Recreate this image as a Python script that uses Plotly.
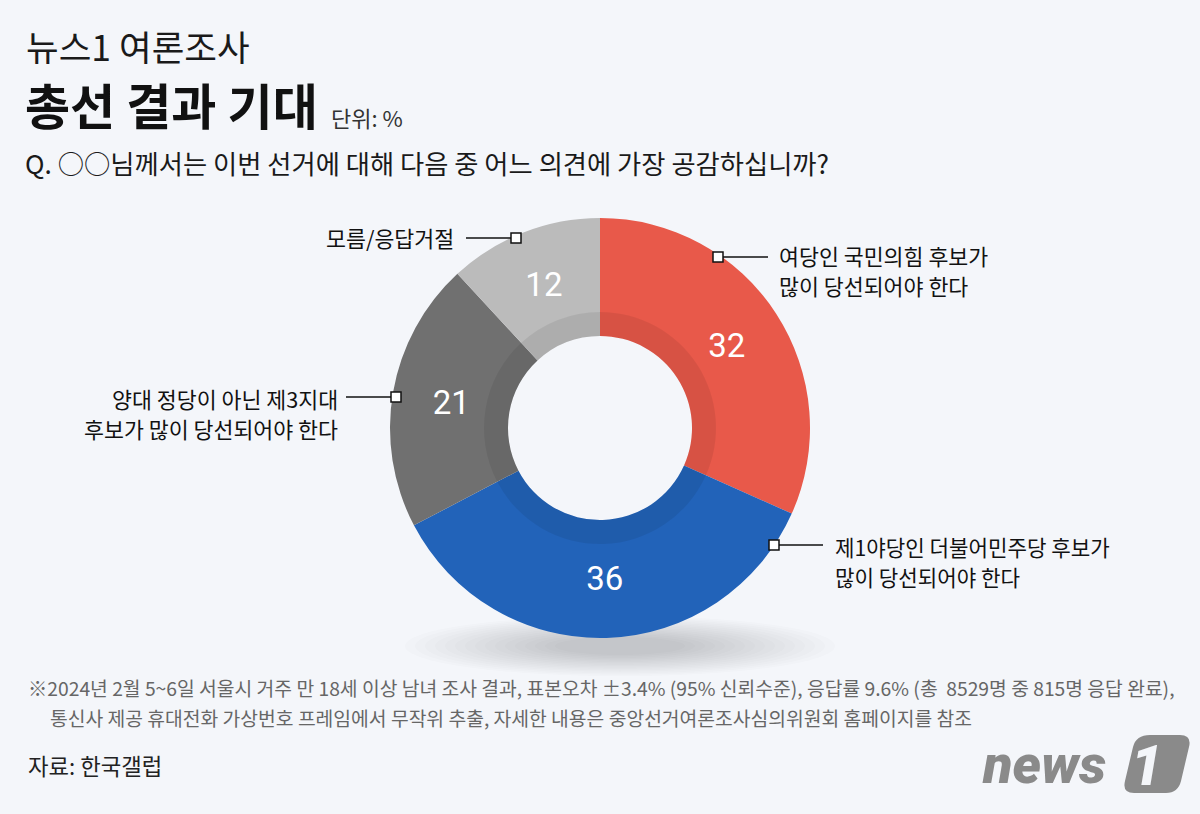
import plotly.graph_objects as go

# 데이터
labels = ['여당인 국민의힘 후보가 많이 당선되어야 한다',
          '제1야당인 더불어민주당 후보가 많이 당선되어야 한다',
          '양대 정당이 아닌 제3지대 후보가 많이 당선되어야 한다',
          '모름/응답거절']
values = [32, 36, 21, 12]
colors = ['#E8594A', '#2263B9', '#707070', '#BBBBBB']

W, H = 1200, 814
FONT = 'Noto Sans CJK KR'


def px(x):
    return x / W


def py(y):
    return 1 - y / H


# 도넛 중심/반지름 (픽셀)
cx, cy, r_out, r_in, r_ring = 600, 428, 210, 92, 116

fig = go.Figure()

fig.add_trace(go.Pie(
    labels=labels, values=values, sort=False, direction='clockwise', rotation=0,
    hole=r_in / r_out,
    marker=dict(colors=colors, line=dict(width=0)),
    textinfo='value', textposition='inside', insidetextorientation='horizontal',
    textfont=dict(family='Roboto', size=33, color='white'),
    domain=dict(x=[px(cx - r_out), px(cx + r_out)], y=[py(cy + r_out), py(cy - r_out)]),
    hoverinfo='skip', showlegend=False,
))

# 안쪽 어두운 링
fig.add_trace(go.Pie(
    labels=labels, values=values, sort=False, direction='clockwise', rotation=0,
    hole=r_in / r_ring,
    marker=dict(colors=['rgba(0,0,0,0.07)'] * 4, line=dict(width=0)),
    textinfo='none',
    domain=dict(x=[px(cx - r_ring), px(cx + r_ring)], y=[py(cy + r_ring), py(cy - r_ring)]),
    hoverinfo='skip', showlegend=False,
))

shapes = []
# 도넛 아래 흐린 그림자
for i in range(16):
    w, h = 215 - i * 10, 30 - i * 1.4
    shapes.append(dict(type='circle', xref='paper', yref='paper', layer='below',
                       x0=px(620 - w), x1=px(620 + w), y0=py(646 + h), y1=py(646 - h),
                       fillcolor='rgba(80,85,95,0.014)', line=dict(width=0)))

# 지시선 + 네모 마커
leaders = [
    (718, 257, 768, 257),
    (774, 545, 823, 545),
    (396, 397, 346, 397),
    (516, 238, 466, 238),
]
for x0, y0, x1, y1 in leaders:
    shapes.append(dict(type='line', xref='paper', yref='paper',
                       x0=px(x0), y0=py(y0), x1=px(x1), y1=py(y1),
                       line=dict(color='#111111', width=1.5)))
    shapes.append(dict(type='rect', xref='paper', yref='paper',
                       x0=px(x0 - 5), x1=px(x0 + 5), y0=py(y0 + 5), y1=py(y0 - 5),
                       fillcolor='white', line=dict(color='#111111', width=1.5)))


# news1 로고 블록 (둥근 평행사변형)
def P(x, y):
    return f'{px(x):.5f} {py(y):.5f}'


logo = (f'M {P(1150, 735)} L {P(1180, 735)} Q {P(1192, 735)} {P(1189, 747)} '
        f'L {P(1181, 781)} Q {P(1178, 793)} {P(1166, 793)} L {P(1134, 793)} '
        f'Q {P(1122, 793)} {P(1125, 781)} L {P(1133, 747)} Q {P(1136, 735)} {P(1150, 735)} Z')
shapes.append(dict(type='path', xref='paper', yref='paper', path=logo,
                   fillcolor='#8a8a8a', line=dict(width=0)))

annotations = []


def txt(x, y, text, size, color='#111111', xanchor='left', weight='normal', family=FONT, style='normal'):
    annotations.append(dict(x=px(x), y=py(y), xref='paper', yref='paper', text=text,
                            showarrow=False, xanchor=xanchor, yanchor='middle', align=xanchor,
                            font=dict(family=family, size=size, color=color, weight=weight, style=style)))


txt(24, 45, '뉴스1 여론조사', 35.5, '#1a1a1a')
txt(23, 103, '총선 결과 기대', 49, '#111111', weight='bold')
txt(329, 117, '단위: %', 22, '#333333')
txt(23, 162, 'Q. ○○님께서는 이번 선거에 대해 다음 중 어느 의견에 가장 공감하십니까?', 26.3, '#1a1a1a')

# 조각 라벨 (한 줄씩)
txt(777, 256, '여당인 국민의힘 후보가', 21.7)
txt(777, 286, '많이 당선되어야 한다', 21.7)
txt(833, 546, '제1야당인 더불어민주당 후보가', 21.2)
txt(833, 576, '많이 당선되어야 한다', 21.2)
txt(340, 398, '양대 정당이 아닌 제3지대', 21.7, xanchor='right')
txt(340, 429, '후보가 많이 당선되어야 한다', 21.7, xanchor='right')
txt(456, 237, '모름/응답거절', 21.7, xanchor='right')

# 주석
txt(26, 688, '※2024년 2월 5~6일 서울시 거주 만 18세 이상 남녀 조사 결과, 표본오차 ±3.4% (95% 신뢰수준), '
             '응답률 9.6% (총  8529명 중 815명 응답 완료),', 19.3, '#666666')
txt(48, 718, '통신사 제공 휴대전화 가상번호 프레임에서 무작위 추출, 자세한 내용은 중앙선거여론조사심의위원회 홈페이지를 참조',
    19.3, '#666666')
txt(26, 765, '자료: 한국갤럽', 22.3, '#222222')

# 로고 글자
txt(980, 764, 'news', 54, '#8a8a8a', weight=900, family='Roboto', style='italic')
txt(1146, 766, '1', 56, '#F4F6FA', xanchor='center', weight=900, family='Roboto', style='italic')

fig.update_layout(
    width=W, height=H,
    margin=dict(l=0, r=0, t=0, b=0),
    paper_bgcolor='#F4F6FA',
    plot_bgcolor='#F4F6FA',
    shapes=shapes,
    annotations=annotations,
)

fig.write_html('out.html', config={'displayModeBar': False},
               post_script="document.body.style.margin='0';")
